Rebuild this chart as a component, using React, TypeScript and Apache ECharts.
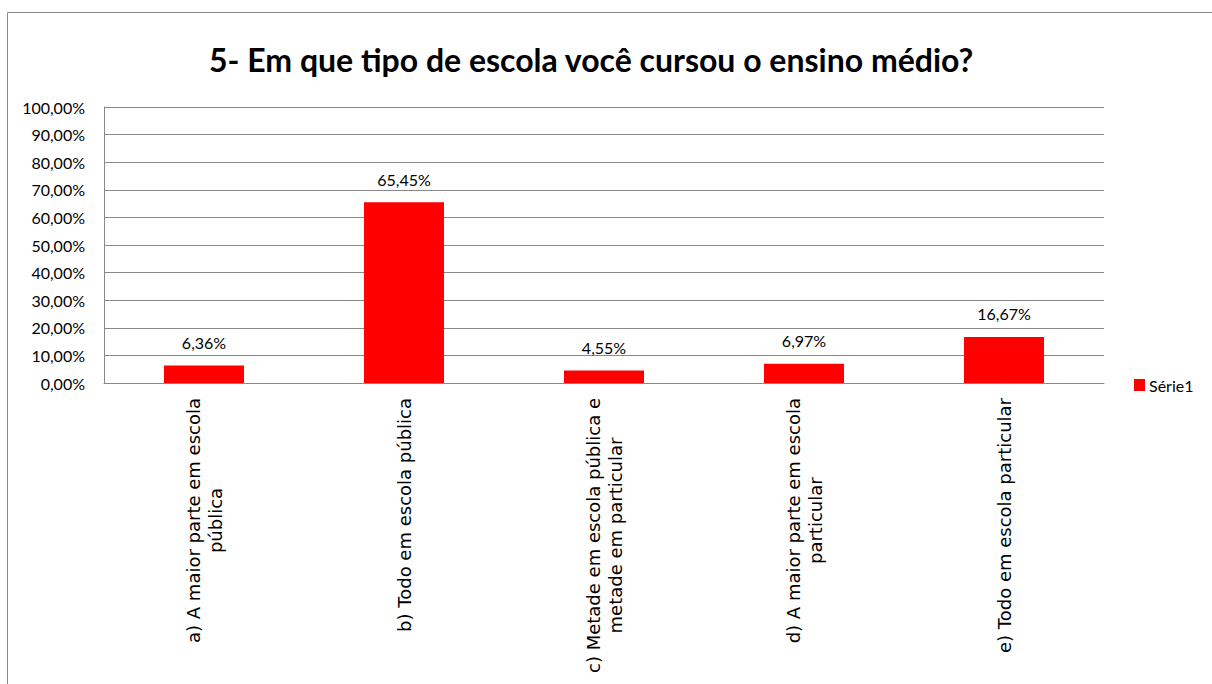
import React, { useEffect, useRef } from "react";
import * as echarts from "echarts";

const titleText = "5- Em que tipo de escola você cursou o ensino médio?";
const categories = [
  "a) A maior parte em escola\npública",
  "b) Todo em escola pública",
  "c) Metade em escola pública e\nmetade em particular",
  "d) A maior parte em escola\nparticular",
  "e) Todo em escola particular",
];
const values = [6.36, 65.45, 4.55, 6.97, 16.67];
const seriesName = "Série1";
const yMin = 0;
const yMax = 100;
const yInterval = 10;

const fmtPct = (v: number) => v.toFixed(2).replace(".", ",") + "%";

export default function App() {
  const ref = useRef<HTMLDivElement>(null);
  useEffect(() => {
    if (!ref.current) return;
    const chart = echarts.init(ref.current, null, { renderer: "svg" });
    const gray = "#898989";
    chart.setOption({
      animation: false,
      backgroundColor: "#ffffff",
      title: {
        text: titleText,
        left: 204,
        top: 38,
        textStyle: {
          fontFamily: "Lato",
          fontWeight: "bold",
          fontSize: 32,
          color: "#000",
        },
      },
      legend: {
        data: [seriesName],
        left: 1134,
        top: 377,
        padding: 0,
        icon: "rect",
        itemWidth: 11,
        itemHeight: 12,
        itemGap: 4,
        textStyle: { fontFamily: "Lato", fontSize: 16, color: "#000", padding: [0, 0, 0, -1] },
      },
      graphic: [
        {
          type: "rect",
          shape: { x: 7.5, y: 12.5, width: 1400, height: 1000 },
          style: { fill: "none", stroke: gray, lineWidth: 1 },
          silent: true,
          z: -10,
        },
      ],
      grid: { left: 104, right: 108, top: 107, bottom: 301, containLabel: false },
      xAxis: {
        type: "category",
        data: categories,
        axisLine: { show: true, lineStyle: { color: gray, width: 1 } },
        axisTick: { show: false },
        axisLabel: {
          interval: 0,
          rotate: 90,
          margin: 15,
          color: "#000",
          fontFamily: "DejaVu Sans",
          fontSize: 18,
          lineHeight: 22,
          formatter: (v: string) =>
            v
              .split("\n")
              .map((l) => "{c|" + l + "}")
              .join("\n"),
          rich: {
            c: {
              align: "center",
              fontFamily: "DejaVu Sans",
              fontSize: 18,
              lineHeight: 22,
              color: "#000",
            },
          },
        },
      },
      yAxis: {
        type: "value",
        min: yMin,
        max: yMax,
        interval: yInterval,
        axisLine: { show: true, lineStyle: { color: gray, width: 1 } },
        axisTick: { show: false },
        splitLine: { show: true, lineStyle: { color: gray, width: 1 } },
        axisLabel: {
          margin: 19,
          color: "#000",
          fontFamily: "Lato",
          fontSize: 16,
          formatter: (v: number) => fmtPct(v),
        },
      },
      series: [
        {
          name: seriesName,
          type: "bar",
          data: values,
          barWidth: "40%",
          itemStyle: { color: "#ff0000" },
          label: {
            show: true,
            position: "top",
            distance: 15,
            color: "#000",
            fontFamily: "Lato",
            fontSize: 16,
            formatter: (p: any) => fmtPct(p.value),
          },
        },
      ],
    });
    return () => chart.dispose();
  }, []);
  return (
    <div
      ref={ref}
      style={{ position: "absolute", left: 0, top: 0, width: 1212, height: 684 }}
    />
  );
}
